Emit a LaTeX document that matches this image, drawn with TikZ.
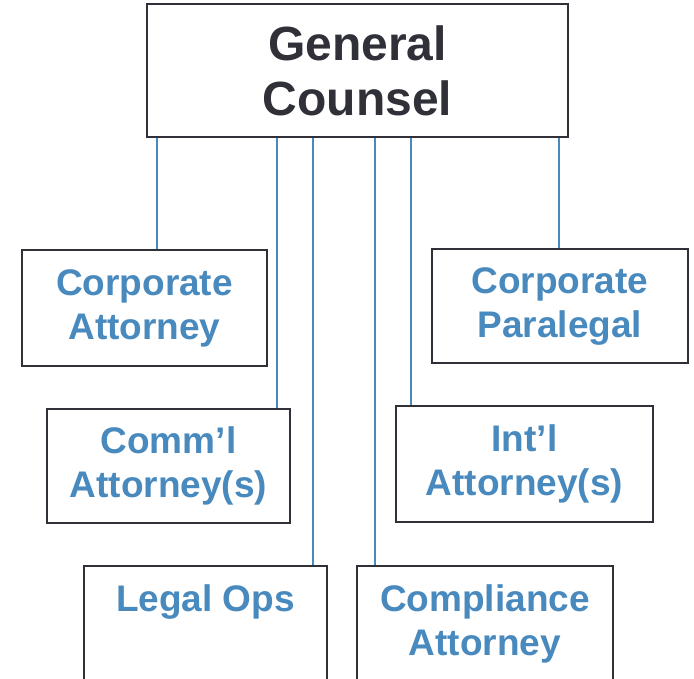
\documentclass[tikz,border=0pt]{standalone}
\usepackage{fontspec}
\setmainfont{Liberation Sans}
\definecolor{orgblue}{RGB}{72,137,190}
\definecolor{orgdark}{RGB}{47,48,56}
\tikzset{
  box/.style={draw=orgdark, line width=2.6pt, fill=white, align=center, inner sep=0pt},
  role/.style={box, text=orgblue, font=\fontsize{37}{44}\selectfont\bfseries},
  link/.style={draw=orgblue, line width=1.6pt}
}
\begin{document}
\begin{tikzpicture}[x=1pt,y=-1pt]
   \useasboundingbox (0,0) rectangle (694,678);
   \node[box, text=orgdark, font=\fontsize{48}{55}\selectfont\bfseries, minimum width=421pt, minimum height=133pt] (gc) at (357.5,70.5) {General\\Counsel};
   \node[role, minimum width=245pt, minimum height=116pt] (corpatt) at (144.5,308) {Corporate\\Attorney};
   \node[role, minimum width=256pt, minimum height=114pt] (corppara) at (560,306) {Corporate\\Paralegal};
   \node[role, minimum width=243pt, minimum height=114pt] (comml) at (168.5,466) {Comm’l\\Attorney(s)};
   \node[role, minimum width=257pt, minimum height=116pt] (intl) at (524.5,464) {Int’l\\Attorney(s)};
   \node[role, minimum width=243pt, minimum height=115pt] (legalops) at (205.5,623.5) {Legal Ops\\\vphantom{y}};
   \node[role, minimum width=256pt, minimum height=115pt] (compl) at (485,623.5) {Compliance\\Attorney};
   \foreach \x/\b in {157/corpatt,277/comml,313/legalops,375/compl,411/intl,559/corppara}
     \draw[link] (gc.south -| \x,0) -- (\b.north -| \x,0);
\end{tikzpicture}
\end{document}
